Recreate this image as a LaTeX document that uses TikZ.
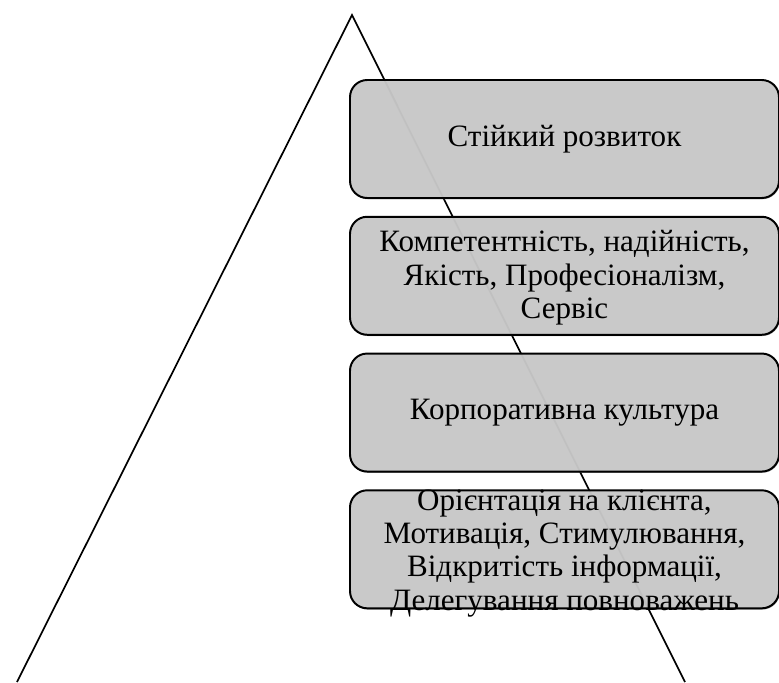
\documentclass[tikz,border=0pt]{standalone}
\usepackage{fontspec}
\setmainfont{Liberation Serif}
\usetikzlibrary{positioning, shadows}

\begin{document}
\begin{tikzpicture}[
        node distance=0.42cm,
        % box styles
        level/.style={rectangle, rounded corners=0.43cm, draw=black, line width=1.4pt, fill=black!20, fill opacity=0.92, minimum width=10.725cm, minimum height=2.95cm, inner sep=0pt, drop shadow={shadow xshift=0.5pt, shadow yshift=-0.9pt, fill=black!60, opacity=0.6}},
        leveltext/.style={align=center, inner sep=0pt, font=\fontsize{22.1}{23.6}\selectfont},
        side/.style={line width=1.2pt}
    ]
    \useasboundingbox (0,0) rectangle (19.475,-17.05);

    % --- 1. TRIANGLE ---
    \coordinate (apex) at (8.8,-0.375);
    \coordinate (leftfoot) at (0.425,-17.05);
    \coordinate (rightfoot) at (17.125,-17.05);
    \draw[side] (leftfoot) -- (apex) -- (rightfoot);

    % --- 2. LEVELS ---
    \node[level] (sustain) at (14.1125,-3.475) {};
    \node[level, below=of sustain] (values) {};
    \node[level, below=of values] (culture) {};
    \node[level, below=of culture] (client) {};

    % --- 3. TEXTS ---
    \node[leveltext] (sustaintext) at (sustain) {Стійкий розвиток};
    \node[leveltext] (valuestext) at ([yshift=-0.05cm]values) {Компетентність, надійність,\\Якість, Професіоналізм,\\Сервіс};
    \node[leveltext] (culturetext) at (culture) {Корпоративна культура};
    \node[leveltext] (clienttext) at ([yshift=-0.1cm]client) {Орієнтація на клієнта,\\Мотивація, Стимулювання,\\Відкритість інформації,\\Делегування повноважень};

\end{tikzpicture}
\end{document}
